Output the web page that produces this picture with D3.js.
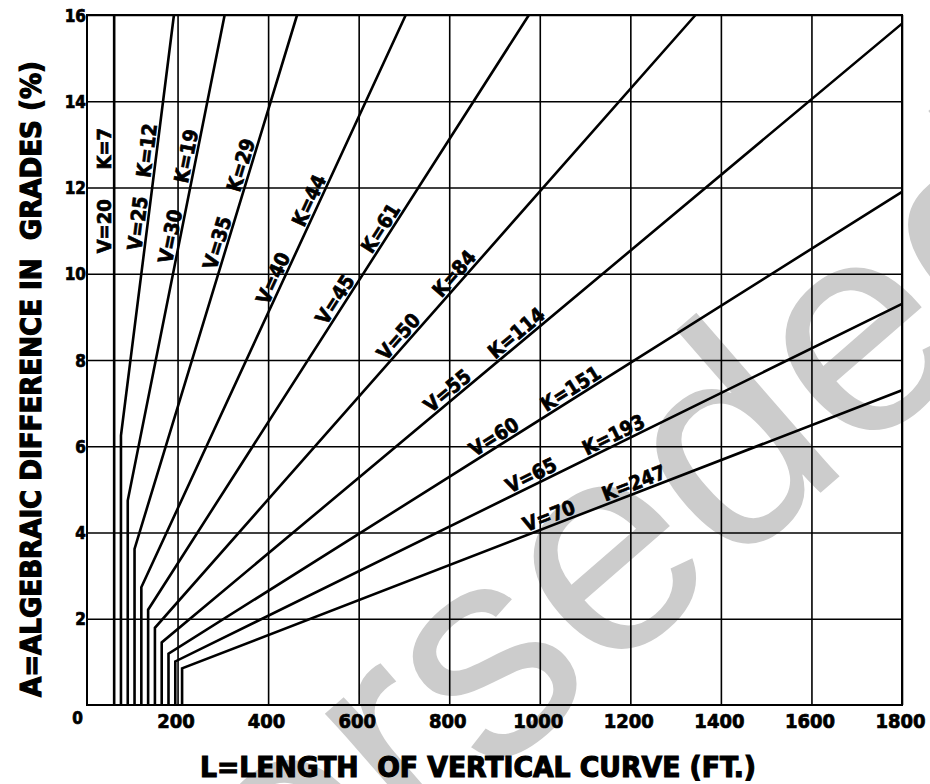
<!DOCTYPE html>
<html>
<head>
<meta charset="utf-8">
<script src="https://cdn.jsdelivr.net/npm/d3@7"></script>
<style>
  body { margin: 0; background: #fff; }
  svg { display: block; }
  .lbl { font-family: "DejaVu Sans Condensed", "DejaVu Sans", sans-serif; font-weight: bold; fill: #000; stroke: #000; stroke-width: 0.7px; }
  .title { stroke-width: 1.1px; }
</style>
</head>
<body>
<div id="chart"></div>
<script>
// design speed (mph) and K value for each curve
var speeds = [20, 25, 30, 35, 40, 45, 50, 55, 60, 65, 70];
var kValues = [7, 12, 19, 29, 44, 61, 84, 114, 151, 193, 247];
// minimum length (ft) = vertical part of each line
var minLengths = [60, 75, 90, 105, 120, 135, 150, 165, 180, 195, 210];
// grade A where each line bends off the vertical
var cornerGrades = [16, 6.25, 4.74, 3.62, 2.73, 2.21, 1.79, 1.45, 1.19, 1.01, 0.85];
// where each line leaves the chart
var endLengths = [60, 192, 304, 464, 704, 976, 1344, 1800, 1800, 1800, 1800];
var endGrades = [16, 16, 16, 16, 16, 16, 16, 15.8, 11.9, 9.3, 7.3];
// grade along each line where the V= and K= labels sit
var vLabelGrades = [11.1, 11.14, 10.82, 10.65, 9.8, 9.28, 8.39, 7.11, 6.02, 5.12, 4.17];
var kLabelGrades = [12.9, 12.83, 12.68, 12.45, 11.6, 10.93, 9.85, 8.45, 7.14, 6.06, 4.93];

var xTicks = [200, 400, 600, 800, 1000, 1200, 1400, 1600, 1800];
var yTicks = [0, 2, 4, 6, 8, 10, 12, 14, 16];

var margin = {top: 15, right: 28, bottom: 79, left: 87},
    width = 930 - margin.left - margin.right,
    height = 784 - margin.top - margin.bottom;

var svg = d3.select("#chart").append("svg")
    .attr("width", 930)
    .attr("height", 784);

// watermark behind everything
svg.append("text")
    .attr("transform", "translate(-115,1306) rotate(-41)")
    .style("font-family", "'Liberation Sans', Arial, sans-serif")
    .style("font-size", "300px")
    .style("fill", "#cccccc")
    .text("Superseded");

var g = svg.append("g")
    .attr("transform", "translate(" + margin.left + "," + margin.top + ")");

var x = d3.scaleLinear().domain([0, 1800]).range([0, width]);
var y = d3.scaleLinear().domain([0, 16]).range([height, 0]);

// grid
g.append("g")
    .attr("transform", "translate(0," + height + ")")
    .call(d3.axisBottom(x).tickValues(xTicks).tickSize(-height).tickFormat(""))
    .call(function(a) { a.select(".domain").remove(); })
    .selectAll("line").attr("stroke", "#000").attr("stroke-width", 1.6);

g.append("g")
    .call(d3.axisLeft(y).tickValues(yTicks.slice(1)).tickSize(-width).tickFormat(""))
    .call(function(a) { a.select(".domain").remove(); })
    .selectAll("line").attr("stroke", "#000").attr("stroke-width", 1.6);

// frame
g.append("rect")
    .attr("width", width).attr("height", height)
    .attr("fill", "none").attr("stroke", "#000").attr("stroke-width", 2);

// tick labels
var xAxis = g.append("g")
    .attr("transform", "translate(0," + height + ")")
    .call(d3.axisBottom(x).tickValues(xTicks).tickSize(0).tickPadding(9).tickFormat(d3.format("d")));
xAxis.select(".domain").remove();
xAxis.selectAll("text").attr("class", "lbl").attr("dx", -2).style("font-size", "20px").attr("font-family", null);

var yAxis = g.append("g")
    .call(d3.axisLeft(y).tickValues(yTicks).tickSize(0).tickPadding(1));
yAxis.select(".domain").remove();
yAxis.selectAll("text").attr("class", "lbl").style("font-size", "17px").attr("font-family", null)
    .attr("dy", function(d) { return d === 0 ? "1.1em" : "0.36em"; })
    .attr("x", function(d) { return d === 0 ? -4 : -1; });

// curves
var series = speeds.map(function(v, i) {
    return {
        v: v, k: kValues[i], vAt: vLabelGrades[i], kAt: kLabelGrades[i],
        pts: [[minLengths[i], 0], [minLengths[i], cornerGrades[i]], [endLengths[i], endGrades[i]]]
    };
});

var line = d3.line().x(function(d) { return x(d[0]); }).y(function(d) { return y(d[1]); });

g.append("g").selectAll("path")
    .data(series)
    .enter().append("path")
    .attr("d", function(d) { return line(d.pts); })
    .attr("fill", "none")
    .attr("stroke", "#000")
    .attr("stroke-width", 2.6)
    .attr("stroke-linejoin", "miter");

// find point + angle on a line at grade a
function pointAtGrade(s, a) {
    for (var j = 0; j < s.pts.length - 1; j++) {
        var p0 = s.pts[j], p1 = s.pts[j + 1];
        if (p1[1] === p0[1]) continue;
        if (a >= Math.min(p0[1], p1[1]) && a <= Math.max(p0[1], p1[1])) {
            var t = (a - p0[1]) / (p1[1] - p0[1]);
            var x0 = x(p0[0]), y0 = y(p0[1]), x1 = x(p1[0]), y1 = y(p1[1]);
            return {
                x: x0 + t * (x1 - x0),
                y: y0 + t * (y1 - y0),
                angle: Math.atan2(y1 - y0, x1 - x0) * 180 / Math.PI
            };
        }
    }
    return null;
}

var labels = [];
series.forEach(function(s) {
    labels.push({text: "V=" + s.v, p: pointAtGrade(s, s.vAt)});
    labels.push({text: "K=" + s.k, p: pointAtGrade(s, s.kAt)});
});

g.append("g").selectAll("text")
    .data(labels)
    .enter().append("text")
    .attr("class", "lbl")
    .attr("text-anchor", "middle")
    .attr("transform", function(d) { return "translate(" + d.p.x + "," + d.p.y + ") rotate(" + d.p.angle + ")"; })
    .attr("dy", -3)
    .style("font-size", "20px")
    .text(function(d) { return d.text; });

// axis titles
svg.append("text")
    .attr("class", "lbl title")
    .attr("x", 200).attr("y", 777)
    .attr("textLength", 556).attr("lengthAdjust", "spacingAndGlyphs")
    .style("font-size", "28px").style("white-space", "pre")
    .text("L=LENGTH  OF VERTICAL CURVE (FT.)");

svg.append("text")
    .attr("class", "lbl title")
    .attr("transform", "translate(41,697) rotate(-90)")
    .attr("textLength", 636).attr("lengthAdjust", "spacingAndGlyphs")
    .style("font-size", "28px").style("white-space", "pre")
    .text("A=ALGEBRAIC DIFFERENCE IN  GRADES (%)");
</script>
</body>
</html>
